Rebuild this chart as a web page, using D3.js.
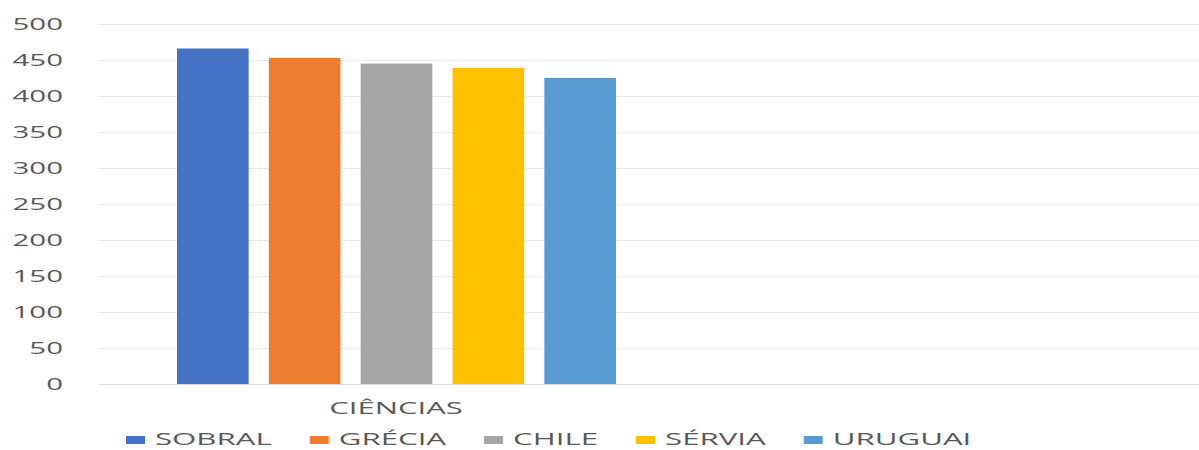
<!DOCTYPE html>
<html>
<head>
<meta charset="utf-8">
<script src="https://cdn.jsdelivr.net/npm/d3@7"></script>
<style>
  body { margin: 0; background: #fff; }
  text { font-family: "Open Sans", sans-serif; fill: #595959; }
</style>
</head>
<body>
<script>
// data
var categories = ["CIÊNCIAS"];
var seriesNames = ["SOBRAL", "GRÉCIA", "CHILE", "SÉRVIA", "URUGUAI"];
var seriesValues = [466, 453, 445, 439, 425];
var seriesColors = ["#4472C4", "#ED7D31", "#A5A5A5", "#FFC000", "#5B9BD5"];
var yTicks = [0, 50, 100, 150, 200, 250, 300, 350, 400, 450, 500];

var W = 1199, H = 450;
var stretch = 1.9; // text in the picture is stretched sideways

var svg = d3.select("body")
    .append("svg")
    .attr("width", W)
    .attr("height", H);

var y = d3.scaleLinear().domain([0, 500]).range([384, 24]);

var x0 = d3.scaleBand().domain(categories).range([99, 695]);
var x1 = d3.scaleBand()
    .domain(seriesNames)
    .range([78, x0.bandwidth() - 79])
    .paddingInner(0.22);

var color = d3.scaleOrdinal().domain(seriesNames).range(seriesColors);

// gridlines (the 0 line doubles as the axis line)
svg.append("g")
    .selectAll("line")
    .data(yTicks)
    .enter().append("line")
    .attr("x1", 99)
    .attr("x2", W)
    .attr("y1", function (d) { return y(d) + 0.5; })
    .attr("y2", function (d) { return y(d) + 0.5; })
    .attr("stroke", function (d) { return d === 0 ? "#dadada" : "#e6e6e6"; })
    .attr("stroke-width", 1.2);

// y tick labels
var yAxis = svg.append("g")
    .attr("transform", "translate(63,0)")
    .call(d3.axisLeft(y).tickValues(yTicks).tickSize(0).tickPadding(0));
yAxis.select(".domain").remove();
yAxis.selectAll("text")
    .attr("x", 0)
    .attr("dy", "0.36em")
    .style("font-size", "15.5px")
    .style("font-family", "'Open Sans', sans-serif")
    .attr("fill", "#595959")
    .attr("transform", "scale(" + stretch + ",1)");

// bars
var groups = svg.selectAll("g.cat")
    .data(categories)
    .enter().append("g")
    .attr("class", "cat")
    .attr("transform", function (d) { return "translate(" + x0(d) + ",0)"; });

groups.selectAll("rect")
    .data(seriesNames.map(function (name, i) { return { name: name, value: seriesValues[i] }; }))
    .enter().append("rect")
    .attr("x", function (d) { return x1(d.name); })
    .attr("y", function (d) { return y(d.value); })
    .attr("width", x1.bandwidth())
    .attr("height", function (d) { return y(0) - y(d.value); })
    .attr("fill", function (d) { return color(d.name); });

// category label
groups.append("text")
    .attr("text-anchor", "middle")
    .style("font-size", "15.5px")
    .attr("transform", function () {
        return "translate(" + (x0.bandwidth() / 2 - 1) + ",414) scale(2,1)";
    })
    .text(function (d) { return d; });

// legend
var legend = svg.append("g").attr("class", "legend");
var lx = 126;
seriesNames.forEach(function (name) {
    legend.append("rect")
        .attr("x", lx)
        .attr("y", 436)
        .attr("width", 19)
        .attr("height", 8)
        .attr("fill", color(name));
    var t = legend.append("text")
        .style("font-size", "16px")
        .attr("transform", "translate(" + (lx + 29) + ",445) scale(1.95,1)")
        .text(name);
    lx += 29 + t.node().getComputedTextLength() * 1.95 + 38;
});
</script>
</body>
</html>
